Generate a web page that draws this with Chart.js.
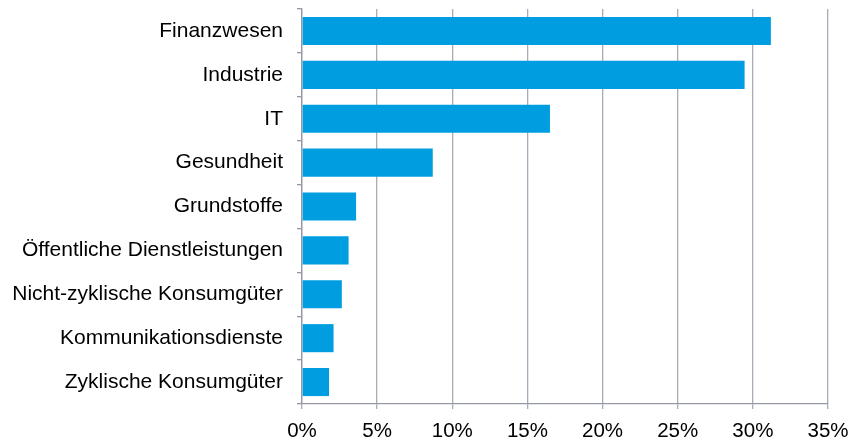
<!DOCTYPE html>
<html>
<head>
<meta charset="utf-8">
<script src="https://cdn.jsdelivr.net/npm/chart.js@4"></script>
<style>
  html, body { margin: 0; padding: 0; background: #fff; }
  #wrap { width: 853px; height: 438px; position: relative; }
</style>
</head>
<body>
<div id="wrap"><canvas id="chart"></canvas></div>
<script>
  // ─── Data ──────────────────────────────────────────────────────────────────

  const sectors = [
    "Finanzwesen",
    "Industrie",
    "IT",
    "Gesundheit",
    "Grundstoffe",
    "Öffentliche Dienstleistungen",
    "Nicht-zyklische Konsumgüter",
    "Kommunikationsdienste",
    "Zyklische Konsumgüter",
  ];
  const shares = [31.2, 29.45, 16.5, 8.7, 3.6, 3.1, 2.65, 2.1, 1.8];
  const xTicks = [0, 5, 10, 15, 20, 25, 30, 35];

  const BAR = "#009EE0";
  const GRID = "#A8ABB8";
  const AXIS = "#9498A6";

  Chart.defaults.font.family = "'Liberation Sans', Arial, sans-serif";
  Chart.defaults.color = "#000";

  new Chart(document.getElementById("chart"), {
    type: "bar",
    data: {
      labels: sectors,
      datasets: [
        {
          data: shares,
          backgroundColor: BAR,
          borderWidth: 0,
          categoryPercentage: 0.64,
          barPercentage: 1,
        },
      ],
    },
    options: {
      indexAxis: "y",
      responsive: true,
      maintainAspectRatio: false,
      animation: false,
      layout: { padding: { top: 9, left: 0, right: 0, bottom: 0 } },
      plugins: { legend: { display: false }, tooltip: { enabled: false } },
      scales: {
        x: {
          min: 0,
          max: 35,
          afterBuildTicks: (axis) => {
            axis.ticks = xTicks.map((v) => ({ value: v }));
          },
          afterFit: (axis) => {
            axis.height = 34;
            axis.paddingLeft = 0;
            axis.paddingRight = 25;
          },
          grid: {
            color: GRID,
            lineWidth: 1.3,
            drawTicks: true,
            tickLength: 5,
          },
          border: { display: true, color: AXIS, width: 1.3 },
          ticks: {
            padding: 10,
            maxRotation: 0,
            font: { size: 20.5 },
            callback: (v) => v + "%",
          },
        },
        y: {
          afterFit: (axis) => {
            axis.width = 302;
            axis.paddingTop = 0;
            axis.paddingBottom = 0;
          },
          grid: {
            offset: true,
            drawOnChartArea: false,
            drawTicks: true,
            tickLength: 5,
            color: AXIS,
            lineWidth: 1.3,
          },
          border: { display: true, color: AXIS, width: 1.3 },
          ticks: {
            padding: 14,
            font: { size: 21 },
          },
        },
      },
    },
  });
</script>
</body>
</html>
